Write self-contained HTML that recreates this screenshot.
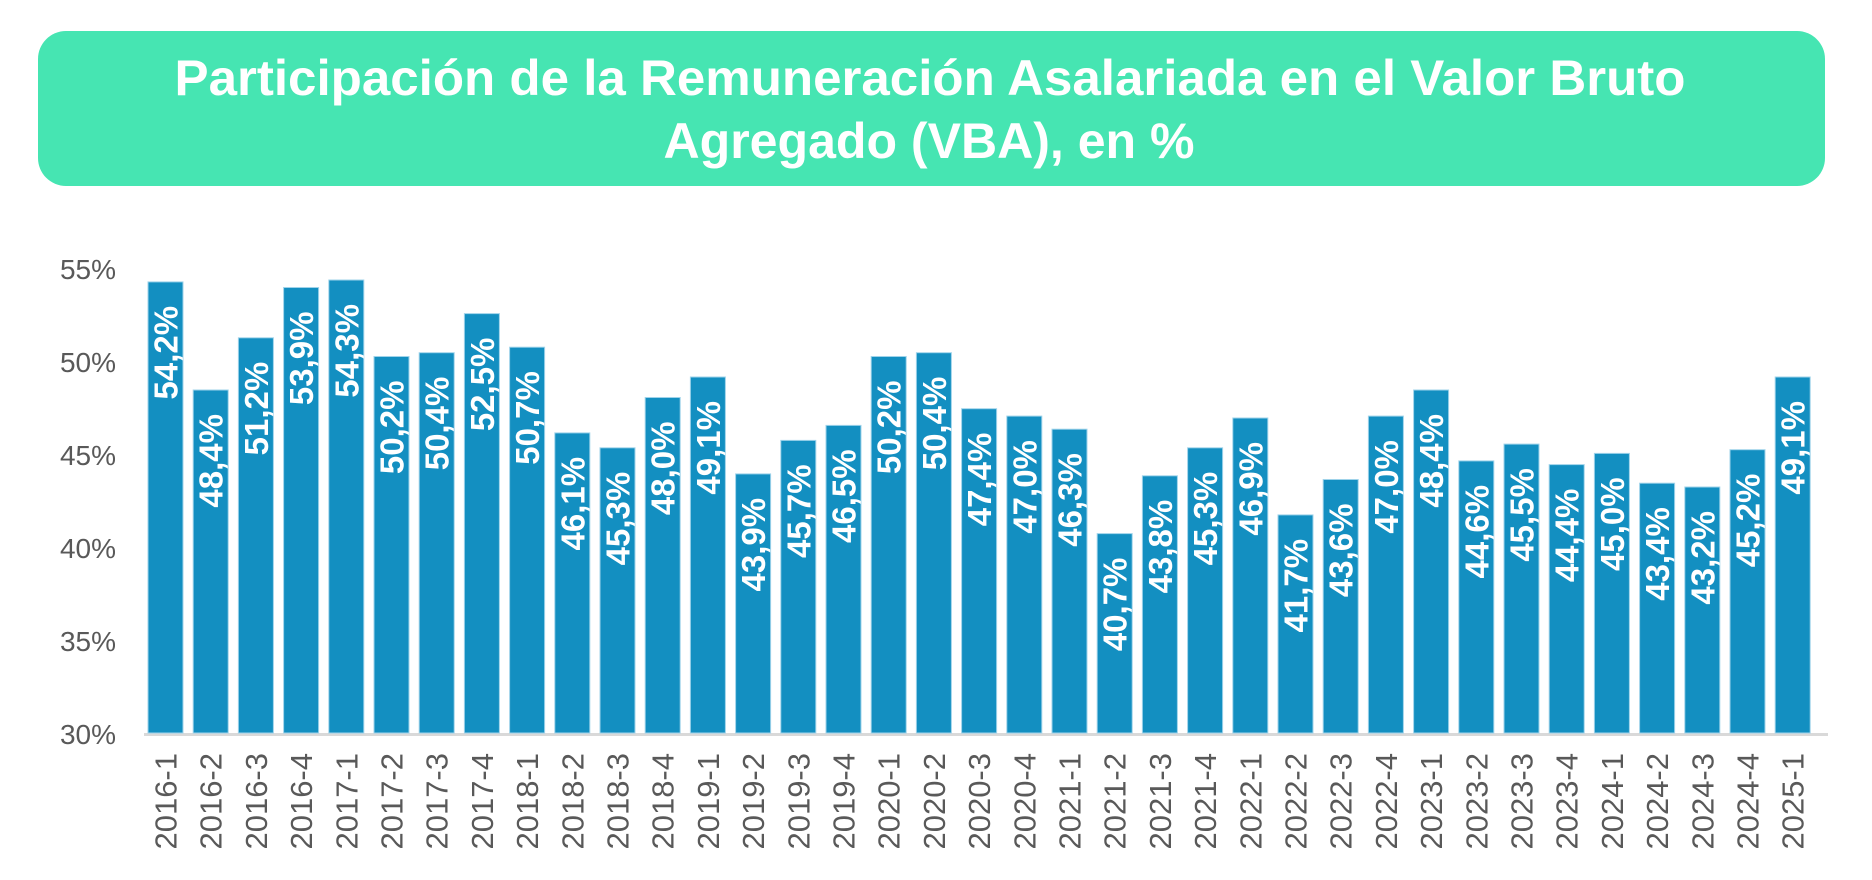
<!DOCTYPE html>
<html><head><meta charset="utf-8"><style>html,body{margin:0;padding:0;background:#fff}svg{display:block}</style></head>
<body>
<svg width="1872" height="880" viewBox="0 0 1872 880" xmlns="http://www.w3.org/2000/svg" font-family="Liberation Sans, sans-serif">
<rect x="38" y="31" width="1787" height="155" rx="28" fill="#46E5B2"/>
<text x="930" y="95" text-anchor="middle" font-size="50" font-weight="bold" fill="#fff" textLength="1511" lengthAdjust="spacingAndGlyphs">Participación de la Remuneración Asalariada en el Valor Bruto</text>
<text x="929" y="158" text-anchor="middle" font-size="50" font-weight="bold" fill="#fff" textLength="531" lengthAdjust="spacingAndGlyphs">Agregado (VBA), en %</text>
<g font-size="28" fill="#595959" text-anchor="end">
<text x="116" y="279">55%</text><text x="116" y="372">50%</text><text x="116" y="465">45%</text><text x="116" y="558">40%</text><text x="116" y="651">35%</text><text x="116" y="744">30%</text>
</g>
<line x1="144" y1="734.5" x2="1828" y2="734.5" stroke="#d9d9d9" stroke-width="3"/>
<g fill="#138FC1" stroke="#9FD3EA" stroke-width="1">
<rect x="148.0" y="281.9" width="35" height="451.1"/>
<rect x="193.2" y="390.0" width="35" height="343.0"/>
<rect x="238.4" y="337.8" width="35" height="395.2"/>
<rect x="283.6" y="287.5" width="35" height="445.5"/>
<rect x="328.8" y="280.0" width="35" height="453.0"/>
<rect x="374.0" y="356.5" width="35" height="376.5"/>
<rect x="419.2" y="352.7" width="35" height="380.3"/>
<rect x="464.4" y="313.6" width="35" height="419.4"/>
<rect x="509.6" y="347.2" width="35" height="385.8"/>
<rect x="554.8" y="432.9" width="35" height="300.1"/>
<rect x="600.0" y="447.8" width="35" height="285.2"/>
<rect x="645.2" y="397.5" width="35" height="335.5"/>
<rect x="690.4" y="377.0" width="35" height="356.0"/>
<rect x="735.6" y="473.9" width="35" height="259.1"/>
<rect x="780.8" y="440.4" width="35" height="292.6"/>
<rect x="826.0" y="425.4" width="35" height="307.6"/>
<rect x="871.2" y="356.5" width="35" height="376.5"/>
<rect x="916.4" y="352.7" width="35" height="380.3"/>
<rect x="961.6" y="408.7" width="35" height="324.3"/>
<rect x="1006.8" y="416.1" width="35" height="316.9"/>
<rect x="1052.0" y="429.2" width="35" height="303.8"/>
<rect x="1097.2" y="533.6" width="35" height="199.4"/>
<rect x="1142.4" y="475.8" width="35" height="257.2"/>
<rect x="1187.6" y="447.8" width="35" height="285.2"/>
<rect x="1232.8" y="418.0" width="35" height="315.0"/>
<rect x="1278.0" y="514.9" width="35" height="218.1"/>
<rect x="1323.2" y="479.5" width="35" height="253.5"/>
<rect x="1368.4" y="416.1" width="35" height="316.9"/>
<rect x="1413.6" y="390.0" width="35" height="343.0"/>
<rect x="1458.8" y="460.9" width="35" height="272.1"/>
<rect x="1504.0" y="444.1" width="35" height="288.9"/>
<rect x="1549.2" y="464.6" width="35" height="268.4"/>
<rect x="1594.4" y="453.4" width="35" height="279.6"/>
<rect x="1639.6" y="483.2" width="35" height="249.8"/>
<rect x="1684.8" y="487.0" width="35" height="246.0"/>
<rect x="1730.0" y="449.7" width="35" height="283.3"/>
<rect x="1775.2" y="377.0" width="35" height="356.0"/>
</g>
<g font-size="33" font-weight="bold" fill="#fff" text-anchor="end">
<text transform="translate(177.5,305.9) rotate(-90)">54,2%</text>
<text transform="translate(222.7,414.0) rotate(-90)">48,4%</text>
<text transform="translate(267.9,361.8) rotate(-90)">51,2%</text>
<text transform="translate(313.1,311.5) rotate(-90)">53,9%</text>
<text transform="translate(358.3,304.0) rotate(-90)">54,3%</text>
<text transform="translate(403.5,380.5) rotate(-90)">50,2%</text>
<text transform="translate(448.7,376.7) rotate(-90)">50,4%</text>
<text transform="translate(493.9,337.6) rotate(-90)">52,5%</text>
<text transform="translate(539.1,371.2) rotate(-90)">50,7%</text>
<text transform="translate(584.3,456.9) rotate(-90)">46,1%</text>
<text transform="translate(629.5,471.8) rotate(-90)">45,3%</text>
<text transform="translate(674.7,421.5) rotate(-90)">48,0%</text>
<text transform="translate(719.9,401.0) rotate(-90)">49,1%</text>
<text transform="translate(765.1,497.9) rotate(-90)">43,9%</text>
<text transform="translate(810.3,464.4) rotate(-90)">45,7%</text>
<text transform="translate(855.5,449.4) rotate(-90)">46,5%</text>
<text transform="translate(900.7,380.5) rotate(-90)">50,2%</text>
<text transform="translate(945.9,376.7) rotate(-90)">50,4%</text>
<text transform="translate(991.1,432.7) rotate(-90)">47,4%</text>
<text transform="translate(1036.3,440.1) rotate(-90)">47,0%</text>
<text transform="translate(1081.5,453.2) rotate(-90)">46,3%</text>
<text transform="translate(1126.7,557.6) rotate(-90)">40,7%</text>
<text transform="translate(1171.9,499.8) rotate(-90)">43,8%</text>
<text transform="translate(1217.1,471.8) rotate(-90)">45,3%</text>
<text transform="translate(1262.3,442.0) rotate(-90)">46,9%</text>
<text transform="translate(1307.5,538.9) rotate(-90)">41,7%</text>
<text transform="translate(1352.7,503.5) rotate(-90)">43,6%</text>
<text transform="translate(1397.9,440.1) rotate(-90)">47,0%</text>
<text transform="translate(1443.1,414.0) rotate(-90)">48,4%</text>
<text transform="translate(1488.3,484.9) rotate(-90)">44,6%</text>
<text transform="translate(1533.5,468.1) rotate(-90)">45,5%</text>
<text transform="translate(1578.7,488.6) rotate(-90)">44,4%</text>
<text transform="translate(1623.9,477.4) rotate(-90)">45,0%</text>
<text transform="translate(1669.1,507.2) rotate(-90)">43,4%</text>
<text transform="translate(1714.3,511.0) rotate(-90)">43,2%</text>
<text transform="translate(1759.5,473.7) rotate(-90)">45,2%</text>
<text transform="translate(1804.7,401.0) rotate(-90)">49,1%</text>
</g>
<g font-size="31" fill="#595959" text-anchor="end">
<text transform="translate(176.5,753) rotate(-90)">2016-1</text>
<text transform="translate(221.7,753) rotate(-90)">2016-2</text>
<text transform="translate(266.9,753) rotate(-90)">2016-3</text>
<text transform="translate(312.1,753) rotate(-90)">2016-4</text>
<text transform="translate(357.3,753) rotate(-90)">2017-1</text>
<text transform="translate(402.5,753) rotate(-90)">2017-2</text>
<text transform="translate(447.7,753) rotate(-90)">2017-3</text>
<text transform="translate(492.9,753) rotate(-90)">2017-4</text>
<text transform="translate(538.1,753) rotate(-90)">2018-1</text>
<text transform="translate(583.3,753) rotate(-90)">2018-2</text>
<text transform="translate(628.5,753) rotate(-90)">2018-3</text>
<text transform="translate(673.7,753) rotate(-90)">2018-4</text>
<text transform="translate(718.9,753) rotate(-90)">2019-1</text>
<text transform="translate(764.1,753) rotate(-90)">2019-2</text>
<text transform="translate(809.3,753) rotate(-90)">2019-3</text>
<text transform="translate(854.5,753) rotate(-90)">2019-4</text>
<text transform="translate(899.7,753) rotate(-90)">2020-1</text>
<text transform="translate(944.9,753) rotate(-90)">2020-2</text>
<text transform="translate(990.1,753) rotate(-90)">2020-3</text>
<text transform="translate(1035.3,753) rotate(-90)">2020-4</text>
<text transform="translate(1080.5,753) rotate(-90)">2021-1</text>
<text transform="translate(1125.7,753) rotate(-90)">2021-2</text>
<text transform="translate(1170.9,753) rotate(-90)">2021-3</text>
<text transform="translate(1216.1,753) rotate(-90)">2021-4</text>
<text transform="translate(1261.3,753) rotate(-90)">2022-1</text>
<text transform="translate(1306.5,753) rotate(-90)">2022-2</text>
<text transform="translate(1351.7,753) rotate(-90)">2022-3</text>
<text transform="translate(1396.9,753) rotate(-90)">2022-4</text>
<text transform="translate(1442.1,753) rotate(-90)">2023-1</text>
<text transform="translate(1487.3,753) rotate(-90)">2023-2</text>
<text transform="translate(1532.5,753) rotate(-90)">2023-3</text>
<text transform="translate(1577.7,753) rotate(-90)">2023-4</text>
<text transform="translate(1622.9,753) rotate(-90)">2024-1</text>
<text transform="translate(1668.1,753) rotate(-90)">2024-2</text>
<text transform="translate(1713.3,753) rotate(-90)">2024-3</text>
<text transform="translate(1758.5,753) rotate(-90)">2024-4</text>
<text transform="translate(1803.7,753) rotate(-90)">2025-1</text>
</g>
</svg>
</body></html>
